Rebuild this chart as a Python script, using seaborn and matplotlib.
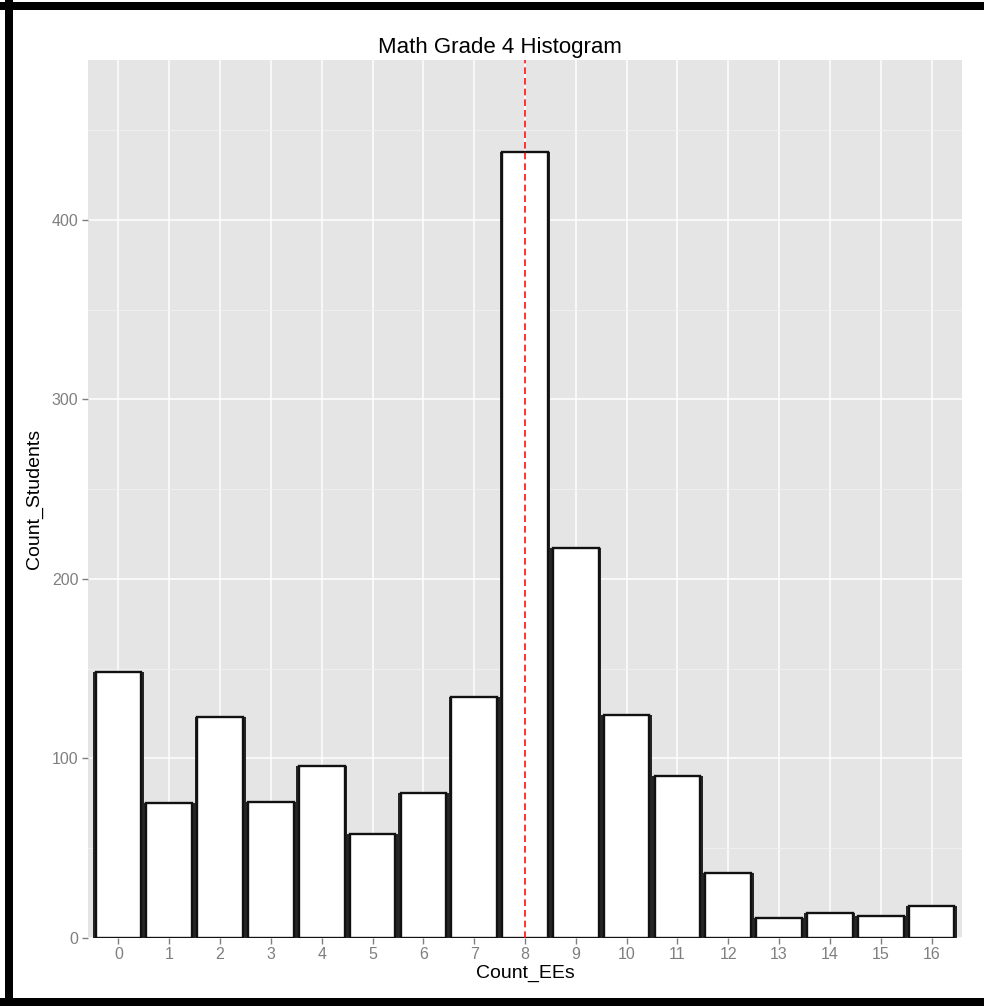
import matplotlib
matplotlib.use('Agg')
import numpy as np
import pandas as pd
import matplotlib.pyplot as plt
import seaborn as sns
from matplotlib.patches import Rectangle
from matplotlib.ticker import MultipleLocator

# データ
count_ees = list(range(17))
count_students = [148, 75, 123, 76, 96, 58, 81, 134, 438, 217, 124, 90, 36, 11, 14, 12, 18]
ref_line = 8          # 赤の破線
y_max = 489
x_label = 'Count_EEs'
y_label = 'Count_Students'
title = 'Math Grade 4 Histogram'

sns.set_theme(style='darkgrid')
plt.rcParams['font.family'] = ['Liberation Sans', 'DejaVu Sans']

df = pd.DataFrame({x_label: count_ees, y_label: count_students})

W, H = 984, 1006
fig = plt.figure(figsize=(W / 100, H / 100), dpi=100)
fig.patch.set_facecolor('white')
ax = fig.add_axes([88 / W, 1 - 938 / H, (962 - 88) / W, (938 - 60) / H])
ax.set_facecolor('#E5E5E5')
ax.set_axisbelow(True)

# 影になる黒いバー + 白いバー
sns.barplot(data=df, x=x_label, y=y_label, color='#262626', saturation=1,
            width=1.0, errorbar=None, linewidth=0, ax=ax)
sns.barplot(data=df, x=x_label, y=y_label, color='white', saturation=1,
            width=0.9, errorbar=None, edgecolor='#111111', linewidth=1.7, ax=ax)

ax.axvline(ref_line, color='#FF1010', linestyle=(0, (4, 2.4)), linewidth=1.2, zorder=5)

ax.set_xlim(-0.6, 16.6)
ax.set_ylim(0, y_max)
ax.yaxis.set_major_locator(MultipleLocator(100))
ax.yaxis.set_minor_locator(MultipleLocator(50))

ax.grid(which='major', color='white', linewidth=1.1)
ax.grid(which='minor', axis='y', color='#F2F2F2', linewidth=0.6)
ax.grid(which='minor', axis='x', visible=False)
for s in ax.spines.values():
    s.set_visible(False)

ax.tick_params(axis='both', which='major', length=4.3, width=1, color='#7F7F7F',
               labelcolor='#7F7F7F', labelsize=11.5, pad=2.5,
               bottom=True, left=True)
ax.tick_params(which='minor', length=0)

ax.set_xlabel(x_label, fontsize=14, color='black', labelpad=2)
ax.set_ylabel(y_label, fontsize=14, color='black', labelpad=6)

fig.text(500 / W, 1 - 47 / H, title, ha='center', va='center', fontsize=16, color='black')

# 枠線
fig.add_artist(Rectangle((5 / W, 0), 8 / W, 1, transform=fig.transFigure, color='black', lw=0))
fig.add_artist(Rectangle((0, 1 - 10 / H), 1, 8 / H, transform=fig.transFigure, color='black', lw=0))
fig.add_artist(Rectangle((0, 0), 1, 8 / H, transform=fig.transFigure, color='black', lw=0))

fig.savefig('out.png', dpi=100)
